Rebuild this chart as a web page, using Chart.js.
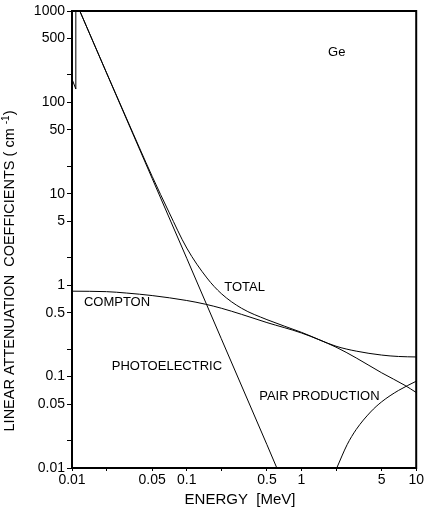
<!DOCTYPE html>
<html>
<head>
<meta charset="utf-8">
<script src="https://cdn.jsdelivr.net/npm/chart.js@4"></script>
<style>
  body { margin: 0; background: #fff; }
  canvas { display: block; }
</style>
</head>
<body>
<canvas id="chart" width="425" height="512"></canvas>
<script>
// energies in MeV, coefficients in cm^-1
var edgeE = [0.01, 0.0108, 0.0108];
var edgeMu = [180, 140, 1300];

var totalE = [0.0117, 0.02, 0.03, 0.05, 0.07, 0.1, 0.15, 0.2, 0.3, 0.5, 1, 2, 3, 5, 7, 10];
var totalMu = [1000, 211, 66, 15.5, 6.3, 2.55, 1.2, 0.81, 0.56, 0.42, 0.305, 0.215, 0.19, 0.172, 0.166, 0.164];

var photoE = [0.0117, 0.02, 0.05, 0.1, 0.2, 0.5, 0.61];
var photoMu = [1000, 210, 14.7, 1.97, 0.26, 0.018, 0.01];

var comptonE = [0.01, 0.02, 0.03, 0.05, 0.1, 0.145, 0.2, 0.3, 0.5, 1, 2, 3, 5, 8, 10];
var comptonMu = [0.86, 0.85, 0.82, 0.77, 0.68, 0.62, 0.56, 0.48, 0.39, 0.30, 0.21, 0.16, 0.11, 0.08, 0.067];

var pairE = [2.03, 2.5, 3, 4, 5, 7, 10];
var pairMu = [0.01, 0.018, 0.0264, 0.041, 0.053, 0.0705, 0.089];

var xTicks = [0.01, 0.02, 0.05, 0.1, 0.2, 0.5, 1, 2, 5, 10];
var xLabels = ['0.01', '', '0.05', '0.1', '', '0.5', '1', '', '5', '10'];
var yTicks = [0.01, 0.02, 0.05, 0.1, 0.2, 0.5, 1, 2, 5, 10, 20, 50, 100, 200, 500, 1000];
var yLabels = ['0.01', '', '0.05', '0.1', '', '0.5', '1', '', '5', '10', '', '50', '100', '', '500', '1000'];

// curve names placed in data coordinates [energy, coefficient, text]
var curveNames = [
    [2.03, 355, 'Ge', 'center'],
    [0.212, 0.955, 'TOTAL', 'left'],
    [0.0127, 0.655, 'COMPTON', 'left'],
    [0.0222, 0.13, 'PHOTOELECTRIC', 'left'],
    [0.428, 0.061, 'PAIR PRODUCTION', 'left']
];

var FONT = '"Liberation Sans", Arial, sans-serif';

function pts(xs, ys){
    var out = [];
    for(var i=0;i<xs.length;i++){
        out.push({x: xs[i], y: ys[i]});
    }
    return out;
}

function line(xs, ys, tension){
    return {
        data: pts(xs, ys),
        borderColor: '#000',
        borderWidth: 1,
        pointRadius: 0,
        tension: tension,
        cubicInterpolationMode: tension > 0 ? 'monotone' : 'default'
    };
}

var decorations = {
    id: 'decorations',
    afterDraw: function(chart){
        var ctx = chart.ctx;
        var a = chart.chartArea;
        var xs = chart.scales.x, ys = chart.scales.y;
        ctx.save();
        ctx.strokeStyle = '#000';
        ctx.lineWidth = 2;
        ctx.strokeRect(a.left, a.top, a.right - a.left, a.bottom - a.top);

        ctx.fillStyle = '#000';
        ctx.textBaseline = 'middle';
        ctx.font = '13px ' + FONT;
        curveNames.forEach(function(c){
            ctx.textAlign = c[3];
            ctx.fillText(c[2], xs.getPixelForValue(c[0]), ys.getPixelForValue(c[1]));
        });

        // x title
        ctx.font = '15px ' + FONT;
        ctx.textAlign = 'center';
        ctx.fillText('ENERGY  [MeV]', 240, 500);

        // y title with superscript
        ctx.translate(10, 271);
        ctx.rotate(-Math.PI / 2);
        var main = 'LINEAR ATTENUATION  COEFFICIENTS ( cm ';
        var sup = '-1';
        var end = ')';
        ctx.font = '14.5px ' + FONT;
        var w1 = ctx.measureText(main).width;
        var w3 = ctx.measureText(end).width;
        ctx.font = '10px ' + FONT;
        var w2 = ctx.measureText(sup).width;
        var x0 = -(w1 + w2 + w3) / 2;
        ctx.textAlign = 'left';
        ctx.font = '14.5px ' + FONT;
        ctx.fillText(main, x0, 0);
        ctx.font = '10px ' + FONT;
        ctx.fillText(sup, x0 + w1, -4);
        ctx.font = '14.5px ' + FONT;
        ctx.fillText(end, x0 + w1 + w2, 0);
        ctx.restore();
    }
};

var ctx = document.getElementById('chart').getContext('2d');
var chart = new Chart(ctx, {
    type: 'scatter',
    data: {
        datasets: [
            line(edgeE, edgeMu, 0),
            line(totalE, totalMu, 0.4),
            line(photoE, photoMu, 0),
            line(comptonE, comptonMu, 0.4),
            line(pairE, pairMu, 0.4)
        ]
    },
    options: {
        responsive: false,
        animation: false,
        showLine: true,
        layout: { padding: { top: 11, right: 7, left: 0, bottom: 0 } },
        plugins: {
            legend: { display: false },
            tooltip: { enabled: false }
        },
        scales: {
            x: {
                type: 'logarithmic',
                min: 0.01,
                max: 10,
                afterBuildTicks: function(scale){
                    scale.ticks = xTicks.map(function(v){ return {value: v}; });
                },
                afterFit: function(scale){ scale.height = 44; },
                ticks: {
                    autoSkip: false,
                    maxRotation: 0,
                    padding: 1,
                    color: '#000',
                    font: { family: FONT, size: 14 },
                    callback: function(v){
                        var i = xTicks.indexOf(v);
                        return i >= 0 ? xLabels[i] : '';
                    }
                },
                grid: { drawOnChartArea: false, color: '#000', tickLength: 3 },
                border: { color: '#000', width: 2 }
            },
            y: {
                type: 'logarithmic',
                min: 0.01,
                max: 1000,
                afterBuildTicks: function(scale){
                    scale.ticks = yTicks.map(function(v){ return {value: v}; });
                },
                afterFit: function(scale){ scale.width = 72; },
                ticks: {
                    autoSkip: false,
                    padding: 2,
                    color: '#000',
                    font: { family: FONT, size: 14 },
                    callback: function(v){
                        var i = yTicks.indexOf(v);
                        return i >= 0 ? yLabels[i] : '';
                    }
                },
                grid: { drawOnChartArea: false, color: '#000', tickLength: 5 },
                border: { color: '#000', width: 2 }
            }
        }
    },
    plugins: [decorations]
});
</script>
</body>
</html>
